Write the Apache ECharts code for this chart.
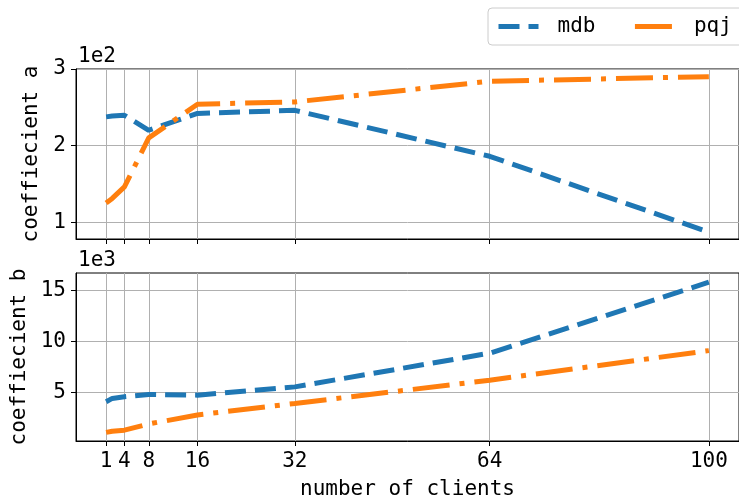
<!DOCTYPE html>
<html>
<head>
<meta charset="utf-8">
<script src="https://cdn.jsdelivr.net/npm/echarts@6/dist/echarts.min.js"></script>
<style>
  html, body { margin: 0; padding: 0; background: #fff; }
  #box { width: 739px; height: 501px; }
</style>
</head>
<body>
<div id="box"></div>
<script>
// number of clients
var clients = [1, 2, 4, 8, 16, 32, 64, 100];
var xTicks = [1, 4, 8, 16, 32, 64, 100];
// coefficient a
var mdbA = [237.5, 238.5, 239.5, 220, 242, 246, 186, 87];
var pqjA = [125, 131, 146, 210, 254, 257, 284, 290];
var aTicks = [100, 200, 300];
// coefficient b
var mdbB = [4100, 4420, 4580, 4800, 4740, 5550, 8850, 15800];
var pqjB = [1090, 1210, 1310, 1920, 2800, 3930, 6200, 9100];
var bTicks = [5000, 10000, 15000];

var font = "DejaVu Sans Mono";
var fs = 21;
var blue = "#1f77b4";
var orange = "#ff7f0e";

function pairs(xs, ys) {
  return xs.map(function (x, i) { return [x, ys[i]]; });
}

function xAxis(idx, showLabels) {
  return {
    type: "value",
    gridIndex: idx,
    min: -3.95,
    max: 104.95,
    axisLine: { show: true, onZero: false, lineStyle: { color: "#000", width: 1 } },
    axisTick: { show: true, length: 5, customValues: xTicks, lineStyle: { color: "#000" } },
    axisLabel: {
      show: showLabels, customValues: xTicks, margin: 10,
      fontFamily: font, fontSize: fs, color: "#000"
    },
    splitLine: { show: true, lineStyle: { color: "#b0b0b0", width: 1 } },
    name: showLabels ? "number of clients" : "",
    nameLocation: "middle",
    nameGap: 38,
    nameTextStyle: { fontFamily: font, fontSize: fs, color: "#000" }
  };
}

function yAxis(idx, min, max, ticks, scale, title, gap) {
  return {
    type: "value",
    gridIndex: idx,
    min: min,
    max: max,
    axisLine: { show: true, onZero: false, lineStyle: { color: "#000", width: 1 } },
    axisTick: { show: true, length: 5, customValues: ticks, lineStyle: { color: "#000" } },
    axisLabel: {
      customValues: ticks, margin: 10,
      fontFamily: font, fontSize: fs, color: "#000",
      formatter: function (v) { return String(Math.round(v / scale)); }
    },
    splitLine: { show: true, lineStyle: { color: "#b0b0b0", width: 1 } },
    name: title,
    nameLocation: "middle",
    nameGap: gap,
    nameTextStyle: { fontFamily: font, fontSize: fs, color: "#000" }
  };
}

function line(name, color, dash, xi, data) {
  return {
    name: name,
    type: "line",
    xAxisIndex: xi,
    yAxisIndex: xi,
    symbol: "none",
    silent: true,
    data: data,
    lineStyle: { color: color, width: 5, type: dash, cap: "butt" },
    itemStyle: { color: color }
  };
}

var myChart = echarts.init(document.getElementById("box"));
var option = {
  animation: false,
  backgroundColor: "#fff",
  legend: {
    data: ["mdb", "pqj"],
    orient: "horizontal",
    left: 488,
    top: 8,
    width: 320,
    padding: [8, 20, 8, 8],
    itemWidth: 40,
    itemHeight: 14,
    itemGap: 37,
    borderColor: "#cccccc",
    borderWidth: 1,
    borderRadius: 4,
    itemStyle: { opacity: 0 },
    lineStyle: { width: 5 },
    textStyle: { fontFamily: font, fontSize: fs, color: "#000", padding: [0, 0, 0, 14] }
  },
  graphic: [
    { type: "text", left: 78, top: 46, style: { text: "1e2", font: fs + "px " + font, fill: "#000" } },
    { type: "text", left: 78, top: 250, style: { text: "1e3", font: fs + "px " + font, fill: "#000" } }
  ],
  grid: [
    { left: 76, top: 69, right: -1, height: 170, show: true, borderColor: "#000", borderWidth: 1, backgroundColor: "transparent" },
    { left: 76, top: 273, right: -1, height: 170, show: true, borderColor: "#000", borderWidth: 1, backgroundColor: "transparent" }
  ],
  xAxis: [xAxis(0, false), xAxis(1, true)],
  yAxis: [
    yAxis(0, 78, 300, aTicks, 100, "coeffiecient a", 34),
    yAxis(1, 250, 16700, bTicks, 1000, "coeffiecient b", 46)
  ],
  series: [
    line("mdb", blue, [21, 9], 0, pairs(clients, mdbA)),
    line("pqj", orange, [37, 10, 5, 10], 0, pairs(clients, pqjA)),
    line("mdb", blue, [21, 9], 1, pairs(clients, mdbB)),
    line("pqj", orange, [37, 10, 5, 10], 1, pairs(clients, pqjB))
  ]
};
myChart.setOption(option);
</script>
</body>
</html>
